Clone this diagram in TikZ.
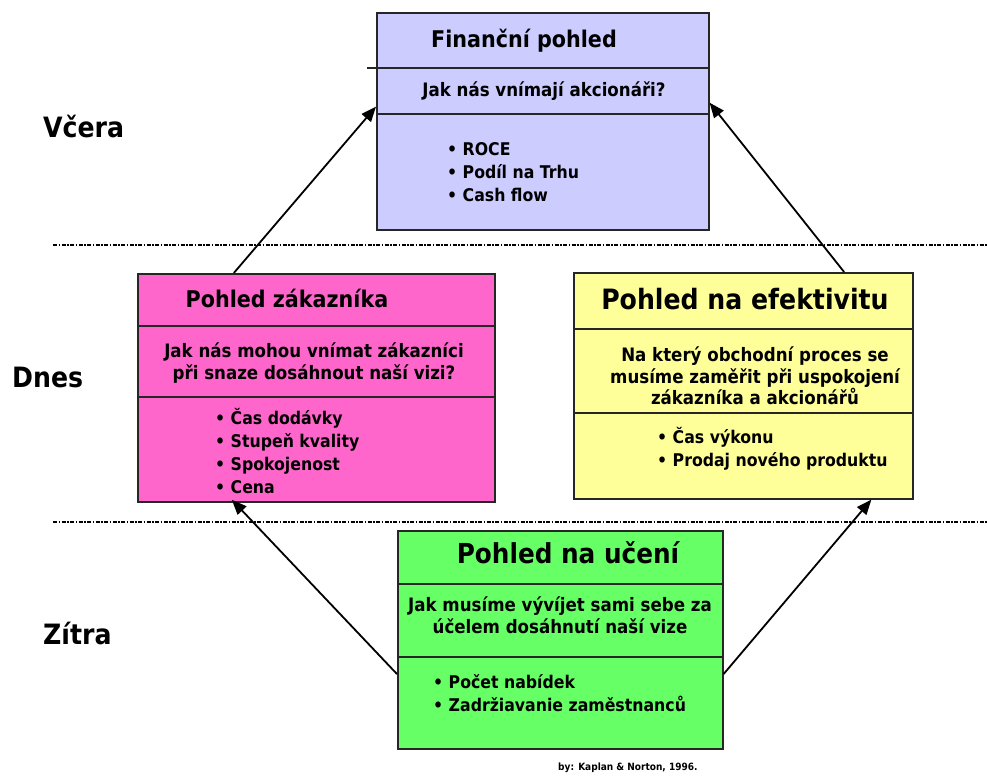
\documentclass[tikz,border=0pt]{standalone}
\usepackage{fontspec}
\setmainfont{DejaVu Sans Condensed}
\usetikzlibrary{calc,arrows.meta}
\definecolor{finblue}{HTML}{CCCCFF}
\definecolor{zakpink}{HTML}{FF66CC}
\definecolor{efyellow}{HTML}{FFFF99}
\definecolor{ucgreen}{HTML}{66FF66}
\tikzset{
  panel/.style={
    draw=black!85,
    line width=1.6pt,
    anchor=north west,
    inner sep=0pt
  },
  divider/.style={
    draw=black!85,
    line width=1.6pt
  },
  title/.style={
    font=\bfseries\fontsize{23}{27}\selectfont,
    inner sep=0pt
  },
  question/.style={
    font=\bfseries\fontsize{18.5}{21.5}\selectfont,
    align=center,
    inner sep=0pt
  },
  items/.style={
    font=\bfseries\fontsize{17.5}{23}\selectfont,
    align=left,
    anchor=west,
    inner sep=0pt
  },
  period/.style={
    font=\bfseries\fontsize{28}{32}\selectfont,
    anchor=west,
    inner sep=0pt
  },
  flow/.style={
    line width=1.8pt,
    -{Triangle[length=15pt,width=12pt]}
  },
  separator/.style={
    line width=2pt,
    dash pattern=on 4pt off 1.5pt on 1.5pt off 1.5pt
  }
}

\begin{document}
\begin{tikzpicture}[x=1pt,y=-1pt]
  \useasboundingbox (0,0) rectangle (987,776);
  % time bands
  \draw[separator] (53,245) -- (987,245);
  \draw[separator] (53,522) -- (987,522);
  \node[period] (vcera) at (43,127) {Včera};
  \node[period] (dnes) at (12,377) {Dnes};
  \node[period] (zitra) at (43,633) {Zítra};
  % financni pohled
  \node[panel,fill=finblue,minimum width=332pt,minimum height=217pt] (fin) at (376,12) {};
  \draw[divider] ([xshift=-9pt,yshift=-56pt]fin.north west) -- ([yshift=-56pt]fin.north east);
  \draw[divider] ([yshift=-102pt]fin.north west) -- ([yshift=-102pt]fin.north east);
  \node[title] (fintitle) at (524,41) {Finanční pohled};
  \node[question] (finq) at (544,91) {Jak nás vnímají akcionáři?};
  \node[items] (finlist) at (447,172) {• ROCE\\• Podíl na Trhu\\• Cash flow};
  % pohled zakaznika
  \node[panel,fill=zakpink,minimum width=357pt,minimum height=228pt] (zak) at (137,273) {};
  \draw[divider] ([yshift=-53pt]zak.north west) -- ([yshift=-53pt]zak.north east);
  \draw[divider] ([yshift=-124pt]zak.north west) -- ([yshift=-124pt]zak.north east);
  \node[title] (zaktitle) at (287,298) {Pohled zákazníka};
  \node[question] (zakq) at (314,363) {Jak nás mohou vnímat zákazníci\\při snaze dosáhnout naší vizi?};
  \node[items] (zaklist) at (215,451) {• Čas dodávky\\• Stupeň kvality\\• Spokojenost\\• Cena};
  % pohled na efektivitu
  \node[panel,fill=efyellow,minimum width=339pt,minimum height=226pt] (ef) at (573,272) {};
  \draw[divider] ([yshift=-57pt]ef.north west) -- ([yshift=-57pt]ef.north east);
  \draw[divider] ([yshift=-141pt]ef.north west) -- ([yshift=-141pt]ef.north east);
  \node[title,font=\bfseries\fontsize{28}{32}\selectfont] (eftitle) at (745,299) {Pohled na efektivitu};
  \node[question] (efq) at (755,376) {Na který obchodní proces se\\musíme zaměřit při uspokojení\\zákazníka a akcionářů};
  \node[items] (eflist) at (657,449) {• Čas výkonu\\• Prodaj nového produktu};
  % pohled na uceni
  \node[panel,fill=ucgreen,minimum width=325pt,minimum height=218pt] (uc) at (397,530) {};
  \draw[divider] ([yshift=-54pt]uc.north west) -- ([yshift=-54pt]uc.north east);
  \draw[divider] ([yshift=-127pt]uc.north west) -- ([yshift=-127pt]uc.north east);
  \node[title,font=\bfseries\fontsize{27.5}{32}\selectfont] (uctitle) at (568,553) {Pohled na učení};
  \node[question] (ucq) at (560,615) {Jak musíme vývíjet sami sebe za\\účelem dosáhnutí naší vize};
  \node[items] (uclist) at (433,693) {• Počet nabídek\\• Zadržiavanie zaměstnanců};
  % vazby
  \draw[flow] ($(zak.north west)!0.27!(zak.north east)$) -- ($(fin.north west)!0.433!(fin.south west)$);
  \draw[flow] ($(ef.north west)!0.796!(ef.north east)$) -- ($(fin.north east)!0.415!(fin.south east)$);
  \draw[flow,shorten >=-4pt] ($(uc.north west)!0.656!(uc.south west)$) -- ($(zak.south west)!0.272!(zak.south east)$);
  \draw[flow] ($(uc.north east)!0.656!(uc.south east)$) -- ($(ef.south west)!0.876!(ef.south east)$);
  \node[font=\bfseries\fontsize{10}{12}\selectfont,anchor=west,inner sep=0pt] (zdroj) at (558,768) {by: Kaplan \& Norton, 1996.};
\end{tikzpicture}
\end{document}
